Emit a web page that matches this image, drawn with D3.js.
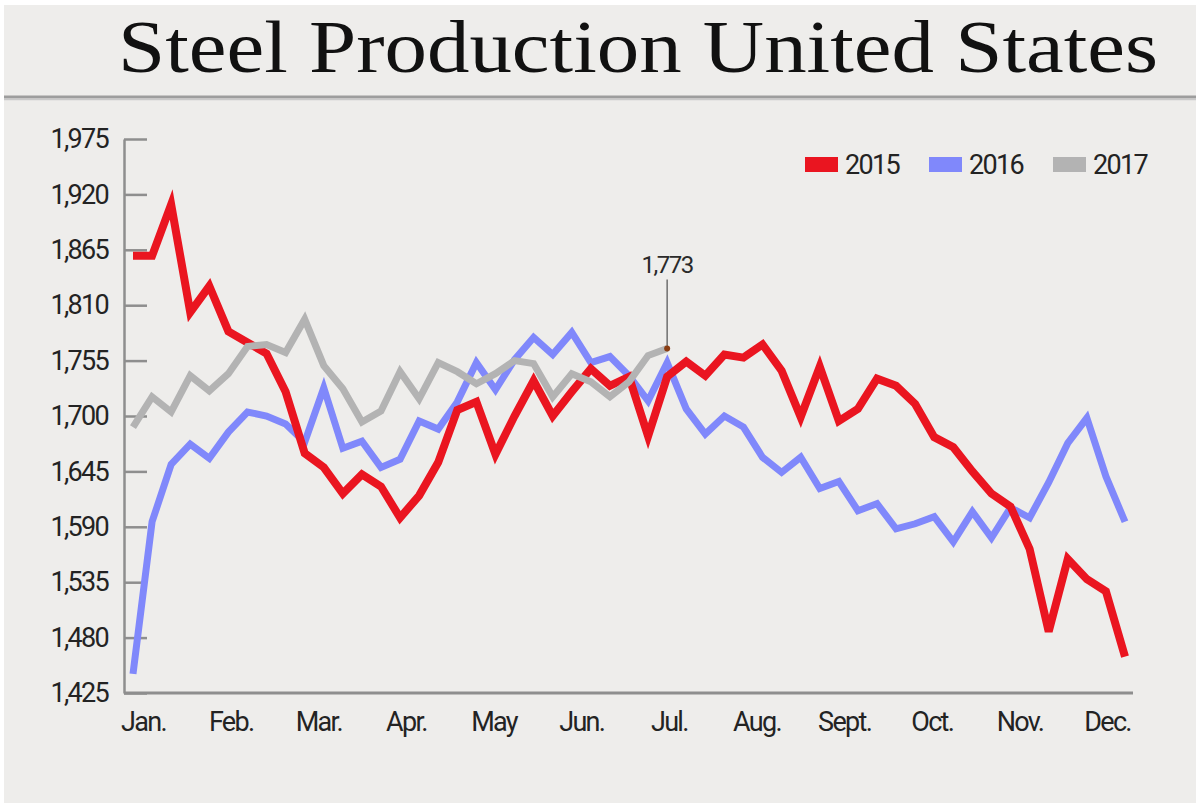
<!DOCTYPE html>
<html>
<head>
<meta charset="utf-8">
<script src="https://cdnjs.cloudflare.com/ajax/libs/d3/7.8.5/d3.min.js"></script>
<style>
  body { margin: 0; background: #fff; }
  .axis text { font-family: Roboto, "Liberation Sans", sans-serif; font-size: 27px; fill: #232323; letter-spacing: -1.7px; }
  .axis path, .axis line { stroke: #8e8e8e; stroke-width: 2.5; }
  .legend text { font-family: Roboto, "Liberation Sans", sans-serif; font-size: 27px; fill: #232323; letter-spacing: -1.7px; }
  .series { fill: none; stroke-linejoin: miter; stroke-linecap: butt; }
</style>
</head>
<body>
<script>
// month labels along the bottom
var months = ["Jan.", "Feb.", "Mar.", "Apr.", "May", "Jun.", "Jul.", "Aug.", "Sept.", "Oct.", "Nov.", "Dec."];

// y tick labels
var yTicks = [1425, 1480, 1535, 1590, 1645, 1700, 1755, 1810, 1865, 1920, 1975];

// weekly production (thousand tons)
var prod2015 = [1859, 1859, 1910, 1803, 1829, 1784, 1773, 1762, 1724, 1663, 1649, 1623, 1642, 1630,
  1599, 1621, 1654, 1706, 1714, 1662, 1700, 1735, 1700, 1724, 1747, 1730, 1739, 1680, 1739, 1754,
  1740, 1761, 1758, 1771, 1745, 1699, 1749, 1695, 1707, 1737, 1730, 1712, 1679, 1669, 1645, 1623,
  1610, 1568, 1486, 1558, 1538, 1526, 1461];
var prod2016 = [1444, 1595, 1652, 1672, 1658, 1684, 1704, 1700, 1692, 1674, 1728, 1668, 1675, 1649,
  1657, 1695, 1687, 1714, 1753, 1726, 1756, 1778, 1761, 1783, 1753, 1759, 1740, 1715, 1753, 1707,
  1682, 1700, 1689, 1659, 1644, 1659, 1628, 1635, 1606, 1613, 1588, 1593, 1600, 1575, 1605, 1579,
  1609, 1599, 1634, 1673, 1698, 1640, 1595];
var prod2017 = [1689, 1719, 1704, 1740, 1725, 1742, 1769, 1771, 1763, 1796, 1750, 1727, 1694, 1705,
  1744, 1717, 1753, 1744, 1732, 1742, 1755, 1752, 1719, 1742, 1734, 1719, 1734, 1760, 1767];

var years = ["2015", "2016", "2017"];
var lastLabel = "1,773";

var colors = {"2015": "#ea1520", "2016": "#8088fb", "2017": "#b3b3b3"};
var widths = {"2015": 8, "2016": 7, "2017": 7};

var W = 1199, H = 809;
var plot = {left: 124, right: 1133, top: 139, bottom: 693};

var svg = d3.select("body").append("svg")
  .attr("width", W)
  .attr("height", H);

// panel background
svg.append("rect")
  .attr("x", 4).attr("y", 5)
  .attr("width", 1192).attr("height", 798)
  .attr("fill", "#eeedeb");

// title
svg.append("text")
  .attr("x", 118).attr("y", 72)
  .attr("textLength", 1040)
  .attr("lengthAdjust", "spacingAndGlyphs")
  .style("font-family", "'Liberation Serif', 'DejaVu Serif', serif")
  .style("font-size", "74px")
  .style("fill", "#111")
  .text("Steel Production United States");

// separator under the title
svg.append("line")
  .attr("x1", 4).attr("x2", 1196)
  .attr("y1", 97).attr("y2", 97)
  .attr("stroke", "#9d9d9d").attr("stroke-width", 3);
svg.append("line")
  .attr("x1", 4).attr("x2", 1196)
  .attr("y1", 99.5).attr("y2", 99.5)
  .attr("stroke", "#c9c9c9").attr("stroke-width", 1.5);

// scales
var x = d3.scaleLinear().domain([0, 52]).range([plot.left + 9, plot.right - 8]);
var y = d3.scaleLinear().domain([1425, 1975]).range([plot.bottom, plot.top]);
var xm = d3.scalePoint().domain(months).range([143, 1107]);

// y axis, ticks pointing inward
svg.append("g")
  .attr("class", "axis")
  .attr("transform", "translate(" + plot.left + ",0)")
  .call(d3.axisLeft(y)
    .tickValues(yTicks)
    .tickFormat(d3.format(","))
    .tickSizeInner(-23)
    .tickSizeOuter(0)
    .tickPadding(16));

// x axis labels (no ticks)
var gx = svg.append("g")
  .attr("class", "axis")
  .attr("transform", "translate(0," + plot.bottom + ")")
  .call(d3.axisBottom(xm).tickSize(0).tickPadding(19));
gx.select(".domain").remove();

// bottom baseline
svg.append("line")
  .attr("x1", plot.left).attr("x2", plot.right)
  .attr("y1", plot.bottom).attr("y2", plot.bottom)
  .attr("stroke", "#8e8e8e").attr("stroke-width", 3);

// lines
var line = d3.line()
  .x(function(d, i) { return x(i); })
  .y(function(d) { return y(d); });

var seriesData = {"2015": prod2015, "2016": prod2016, "2017": prod2017};

["2016", "2015", "2017"].forEach(function(yr) {
  svg.append("path")
    .datum(seriesData[yr])
    .attr("class", "series")
    .attr("stroke", colors[yr])
    .attr("stroke-width", widths[yr])
    .attr("d", line);
});

// annotation on the latest 2017 value
var li = prod2017.length - 1,
  lx = x(li),
  ly = y(prod2017[li]);

svg.append("line")
  .attr("x1", lx).attr("x2", lx)
  .attr("y1", ly - 2).attr("y2", ly - 69)
  .attr("stroke", "#6e6e6e").attr("stroke-width", 1.5);
svg.append("circle")
  .attr("cx", lx).attr("cy", ly)
  .attr("r", 3)
  .attr("fill", "#8a3d12");
svg.append("text")
  .attr("x", lx).attr("y", ly - 76)
  .attr("text-anchor", "middle")
  .style("font-family", "Roboto, 'Liberation Sans', sans-serif")
  .style("font-size", "24px")
  .style("letter-spacing", "-1.5px")
  .style("fill", "#2a2a2a")
  .text(lastLabel);

// legend
var legend = svg.selectAll(".legend")
    .data(years)
  .enter().append("g")
    .attr("class", "legend")
    .attr("transform", function(d, i) { return "translate(" + (805 + i * 124) + ",157)"; });

legend.append("rect")
  .attr("width", 33)
  .attr("height", 15)
  .attr("fill", function(d) { return colors[d]; });

legend.append("text")
  .attr("x", 40)
  .attr("y", 17)
  .text(function(d) { return d; });
</script>
</body>
</html>
